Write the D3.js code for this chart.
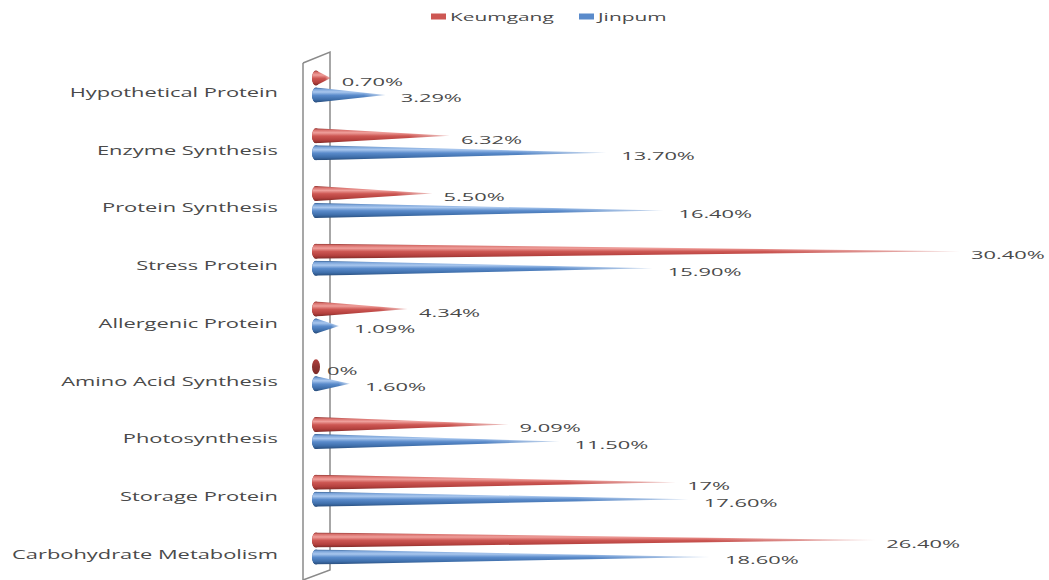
<!DOCTYPE html>
<html>
<head>
<meta charset="utf-8">
<script src="https://cdn.jsdelivr.net/npm/d3@7"></script>
<style>
  html, body { margin: 0; padding: 0; background: #fff; }
  svg { display: block; }
  text { font-family: "Open Sans", "Liberation Sans", sans-serif; fill: #4a4a4a; }
</style>
</head>
<body>
<svg id="chart" width="1049" height="580"></svg>
<script>
// Protein functional categories and their share (%) in each cultivar
const categories = [
  "Hypothetical Protein",
  "Enzyme Synthesis",
  "Protein Synthesis",
  "Stress Protein",
  "Allergenic Protein",
  "Amino Acid Synthesis",
  "Photosynthesis",
  "Storage Protein",
  "Carbohydrate Metabolism"
];
const seriesNames = ["Keumgang", "Jinpum"];
const keumgang = [0.70, 6.32, 5.50, 30.40, 4.34, 0, 9.09, 17, 26.40];
const jinpum   = [3.29, 13.70, 16.40, 15.90, 1.09, 1.60, 11.50, 17.60, 18.60];
const seriesValues = [keumgang, jinpum];
const seriesColors = {
  Keumgang: ["#8e3330", "#d8706c", "#ef9f9b", "#cd5753", "#b3403d", "#7c2a27"],
  Jinpum:   ["#345e92", "#7ba4d9", "#a9c7ee", "#5a8bcb", "#3e6eaa", "#284c7a"]
};

const svg = d3.select("#chart");
const defs = svg.append("defs");

// Cylindrical shading for each series (light band near the top, dark underside)
const stopOffsets = [0, 0.12, 0.3, 0.52, 0.8, 1];
seriesNames.forEach(name => {
  const g = defs.append("linearGradient")
    .attr("id", "shade-" + name)
    .attr("x1", 0).attr("y1", 0).attr("x2", 0).attr("y2", 1);
  seriesColors[name].forEach((c, i) => g.append("stop").attr("offset", stopOffsets[i]).attr("stop-color", c));
  const cap = defs.append("linearGradient")
    .attr("id", "cap-" + name)
    .attr("x1", 0).attr("y1", 0).attr("x2", 0).attr("y2", 1);
  cap.append("stop").attr("offset", 0).attr("stop-color", seriesColors[name][4]);
  cap.append("stop").attr("offset", 0.5).attr("stop-color", seriesColors[name][0]);
  cap.append("stop").attr("offset", 1).attr("stop-color", seriesColors[name][5]);
});

// Cones thin out and fade toward their tips
const fade = defs.append("linearGradient").attr("id", "tipFade")
  .attr("x1", 0).attr("y1", 0).attr("x2", 1).attr("y2", 0);
fade.append("stop").attr("offset", 0).attr("stop-color", "#fff");
fade.append("stop").attr("offset", 0.7).attr("stop-color", "#fff");
fade.append("stop").attr("offset", 1).attr("stop-color", "#555");
defs.append("mask").attr("id", "tipMask")
  .attr("maskContentUnits", "objectBoundingBox")
  .append("rect").attr("width", 1).attr("height", 1).attr("fill", "url(#tipFade)");

// Scales
const x = d3.scaleLinear().domain([0, 30.4]).range([316, 960]);
const y = d3.scaleBand().domain(categories).range([57.6, 577.35]).paddingInner(0).paddingOuter(0);
const ySeries = d3.scaleBand().domain(seriesNames).range([-17, 17]);
const coneR = 7.5;
const capRx = 4;

// Back wall of the 3-D plot area
const wall = svg.append("g").attr("fill", "none").attr("stroke", "#8a8a8a").attr("stroke-width", 1.5);
wall.append("path").attr("d", "M303,63 L330,52 L330,570 L303,580");
wall.append("path").attr("d", "M303,63 L303,580");

// Category axis labels (stretched horizontally)
const sxCat = 1.62;
const catG = svg.append("g");
categories.forEach(c => {
  catG.append("g")
    .attr("transform", `translate(278,${y(c) + y.bandwidth() / 2 + 10.5}) scale(${sxCat},1)`)
    .append("text")
    .attr("text-anchor", "end")
    .attr("font-size", 13.5)
    .text(c);
});

// Cones
const fmt = v => (v % 1 === 0 ? v : v.toFixed(2)) + "%";
const sxLab = 1.9;
seriesNames.forEach((name, si) => {
  const g = svg.append("g");
  const labelDx = si === 0 ? 11 : 15;
  const labelDy = si === 0 ? 8 : 7.5;
  categories.forEach((c, i) => {
    const v = seriesValues[si][i];
    const cy = y(c) + y.bandwidth() / 2 + ySeries(name) + ySeries.bandwidth() / 2;
    const x0 = x(0);
    const xt = x(v);
    // base cap
    g.append("ellipse")
      .attr("cx", x0).attr("cy", cy).attr("rx", capRx).attr("ry", coneR)
      .attr("fill", `url(#cap-${name})`);
    if (v > 0) {
      g.append("path")
        .attr("d", `M${xt},${cy} L${x0},${cy - coneR} A${capRx},${coneR} 0 0 0 ${x0},${cy + coneR} Z`)
        .attr("fill", `url(#shade-${name})`)
        .attr("mask", "url(#tipMask)");
    }
    // value label
    g.append("g")
      .attr("transform", `translate(${xt + labelDx},${cy + labelDy}) scale(${sxLab},1)`)
      .append("text")
      .attr("font-size", 11.5)
      .text(fmt(v));
  });
});

// Legend
const legend = svg.append("g");
const legendItems = [
  { name: "Keumgang", x: 431 },
  { name: "Jinpum", x: 579 }
];
legendItems.forEach(item => {
  legend.append("rect")
    .attr("x", item.x).attr("y", 13.5).attr("width", 15).attr("height", 6)
    .attr("fill", seriesColors[item.name][3]);
  legend.append("g")
    .attr("transform", `translate(${item.x + 19},21) scale(${sxLab},1)`)
    .append("text")
    .attr("font-size", 11)
    .text(item.name);
});
</script>
</body>
</html>
